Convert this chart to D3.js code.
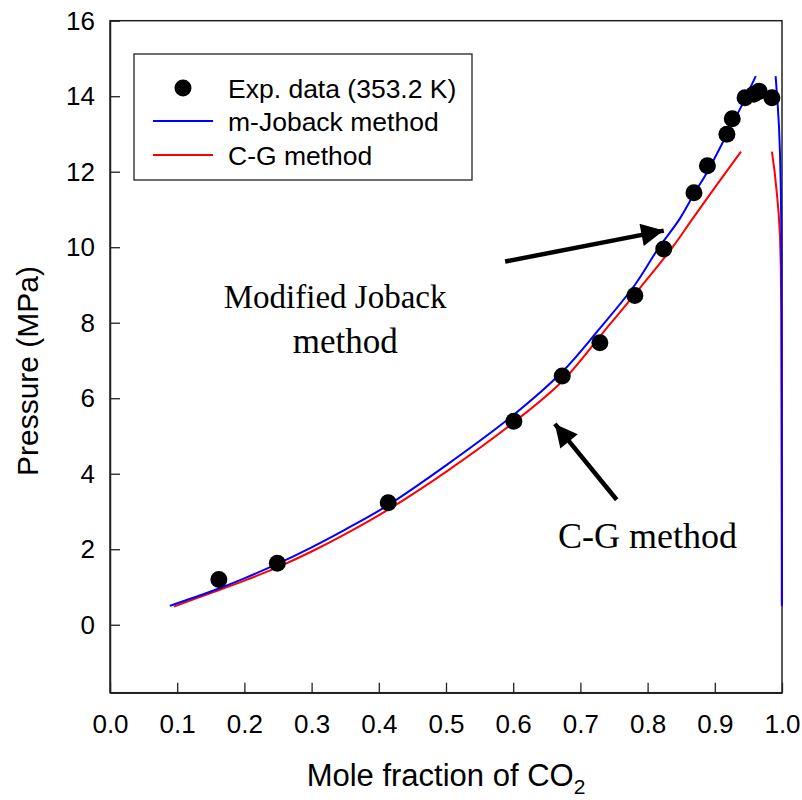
<!DOCTYPE html>
<html><head><meta charset="utf-8">
<script src="https://cdn.jsdelivr.net/npm/d3@7"></script>
<style>body{margin:0;background:#fff}svg{display:block}</style>
</head><body>
<svg id="chart" width="802" height="800"></svg>
<script>
// ---- data ----
const expX = [0.162, 0.249, 0.414, 0.601, 0.673, 0.729, 0.781, 0.824, 0.869, 0.889, 0.918, 0.926, 0.945, 0.958, 0.966, 0.985];
const expP = [1.20, 1.63, 3.23, 5.39, 6.59, 7.47, 8.72, 9.95, 11.44, 12.16, 12.99, 13.40, 13.96, 14.05, 14.13, 13.96];

const jobackBubbleX = [0.089, 0.15, 0.20, 0.249, 0.30, 0.35, 0.414, 0.50, 0.60, 0.673, 0.727, 0.781, 0.816, 0.847, 0.870, 0.889, 0.918, 0.940, 0.961];
const jobackBubbleP = [0.50, 0.88, 1.23, 1.61, 2.05, 2.52, 3.17, 4.22, 5.55, 6.70, 7.81, 9.00, 9.97, 10.73, 11.44, 12.00, 12.99, 13.75, 14.53];
const jobackDewX = [0.9905, 0.9935, 0.9955, 0.9970, 0.9982, 0.9990, 0.9994, 0.9996, 0.9998, 0.9999];
const jobackDewP = [14.53, 13.80, 13.20, 12.50, 11.60, 10.50, 8.50, 6.00, 3.00, 0.50];

const cgBubbleX = [0.095, 0.15, 0.20, 0.249, 0.30, 0.35, 0.414, 0.50, 0.60, 0.673, 0.737, 0.790, 0.838, 0.866, 0.900, 0.939];
const cgBubbleP = [0.48, 0.84, 1.17, 1.52, 1.94, 2.40, 3.05, 4.05, 5.35, 6.45, 7.81, 8.95, 10.02, 10.73, 11.58, 12.53];
const cgDewX = [0.9850, 0.9890, 0.9925, 0.9950, 0.9970, 0.9982, 0.9990, 0.9994, 0.9997, 0.9998];
const cgDewP = [12.53, 12.00, 11.40, 10.90, 10.30, 9.50, 8.20, 6.00, 3.00, 0.48];

const xTicks = [0.0, 0.1, 0.2, 0.3, 0.4, 0.5, 0.6, 0.7, 0.8, 0.9, 1.0];
const yTicks = [0, 2, 4, 6, 8, 10, 12, 14, 16];
const legendLabels = ["Exp. data (353.2 K)", "m-Joback method", "C-G method"];
// annotation arrows [tailX, tailP, tipX, tipP] in data units
const arrowJoback = [0.588, 9.62, 0.824, 10.44];
const arrowCG = [0.754, 3.31, 0.662, 5.32];

// ---- layout ----
const svg = d3.select("#chart");
const L = 110, R = 782, T = 20.7, B = 692.7;
const x = d3.scaleLinear().domain([0, 1]).range([L, R]);
const y = d3.scaleLinear().domain([-1.8, 16]).range([B, T]);
const blue = "#0000ff", red = "#ff0000";

// frame
svg.append("rect").attr("x", L).attr("y", T).attr("width", R - L).attr("height", B - T)
  .attr("fill", "none").attr("stroke", "#222").attr("stroke-width", 1.5);

// axes (inward ticks)
const xAxis = svg.append("g").attr("transform", `translate(0,${B})`)
  .call(d3.axisBottom(x).tickValues(xTicks).tickFormat(d3.format(".1f")).tickSizeInner(-10).tickSizeOuter(0).tickPadding(22));
const yAxis = svg.append("g").attr("transform", `translate(${L},0)`)
  .call(d3.axisLeft(y).tickValues(yTicks).tickFormat(d3.format("d")).tickSizeInner(-10).tickSizeOuter(0).tickPadding(15));
[xAxis, yAxis].forEach(g => {
  g.select(".domain").attr("stroke", "#222").attr("stroke-width", 1.5);
  g.selectAll(".tick line").attr("stroke", "#222").attr("stroke-width", 1.3);
  g.selectAll(".tick text").attr("fill", "#000").style("font-family", "Liberation Sans, Arial, sans-serif").style("font-size", "26px");
});

// axis titles
const xt = svg.append("text").attr("x", (L + R) / 2).attr("y", 786).attr("text-anchor", "middle")
  .style("font-family", "Liberation Sans, Arial, sans-serif").style("font-size", "31px").attr("fill", "#000");
xt.append("tspan").text("Mole fraction of CO");
xt.append("tspan").attr("dy", 8).style("font-size", "21px").text("2");
svg.append("text").attr("transform", `translate(38,371) rotate(-90)`).attr("text-anchor", "middle")
  .style("font-family", "Liberation Sans, Arial, sans-serif").style("font-size", "30px").attr("fill", "#000")
  .text("Pressure (MPa)");

// curves
const line = d3.line().x(d => x(d[0])).y(d => y(d[1]));
const zip = (a, b) => a.map((v, i) => [v, b[i]]);
const plot = svg.append("g");
plot.append("path").datum(zip(cgBubbleX, cgBubbleP)).attr("d", line.curve(d3.curveCatmullRom)).attr("fill", "none").attr("stroke", red).attr("stroke-width", 2);
plot.append("path").datum(zip(cgDewX, cgDewP)).attr("d", line.curve(d3.curveLinear)).attr("fill", "none").attr("stroke", red).attr("stroke-width", 2);
plot.append("path").datum(zip(jobackBubbleX, jobackBubbleP)).attr("d", line.curve(d3.curveCatmullRom)).attr("fill", "none").attr("stroke", blue).attr("stroke-width", 2);
plot.append("path").datum(zip(jobackDewX, jobackDewP)).attr("d", line.curve(d3.curveLinear)).attr("fill", "none").attr("stroke", blue).attr("stroke-width", 2);

// experimental points
plot.selectAll("circle.exp").data(zip(expX, expP)).join("circle").attr("class", "exp")
  .attr("cx", d => x(d[0])).attr("cy", d => y(d[1])).attr("r", 8.5).attr("fill", "#000");

// legend
const lg = svg.append("g");
lg.append("rect").attr("x", 134).attr("y", 54).attr("width", 338).attr("height", 126)
  .attr("fill", "#fff").attr("stroke", "#222").attr("stroke-width", 1.3);
const rows = [88, 121, 155];
lg.append("circle").attr("cx", 183).attr("cy", rows[0]).attr("r", 8.5).attr("fill", "#000");
lg.append("line").attr("x1", 153).attr("x2", 213).attr("y1", rows[1]).attr("y2", rows[1]).attr("stroke", blue).attr("stroke-width", 2);
lg.append("line").attr("x1", 153).attr("x2", 213).attr("y1", rows[2]).attr("y2", rows[2]).attr("stroke", red).attr("stroke-width", 2);
lg.selectAll("text").data(legendLabels).join("text")
  .attr("x", 228).attr("y", (d, i) => rows[i]).attr("dy", "0.36em")
  .style("font-family", "Liberation Sans, Arial, sans-serif").style("font-size", "26.5px").attr("fill", "#000")
  .text(d => d);

// annotation arrows
svg.append("defs").append("marker").attr("id", "ah").attr("viewBox", "0 0 10 10")
  .attr("refX", 10).attr("refY", 5).attr("markerWidth", 5.5).attr("markerHeight", 5)
  .attr("markerUnits", "strokeWidth").attr("orient", "auto")
  .append("path").attr("d", "M0,0 L10,5 L0,10 z").attr("fill", "#000");
[arrowJoback, arrowCG].forEach(a => {
  svg.append("line").attr("x1", x(a[0])).attr("y1", y(a[1])).attr("x2", x(a[2])).attr("y2", y(a[3]))
    .attr("stroke", "#000").attr("stroke-width", 4.5).attr("marker-end", "url(#ah)");
});

// annotation text
const serif = "Liberation Serif, Times New Roman, serif";
svg.append("text").attr("x", x(0.335)).attr("y", y(8.39)).attr("text-anchor", "middle")
  .style("font-family", serif).style("font-size", "33px").attr("fill", "#000").text("Modified Joback");
svg.append("text").attr("x", x(0.35)).attr("y", y(7.2)).attr("text-anchor", "middle")
  .style("font-family", serif).style("font-size", "35px").attr("fill", "#000").text("method");
svg.append("text").attr("x", x(0.80)).attr("y", y(2.03)).attr("text-anchor", "middle")
  .style("font-family", serif).style("font-size", "36px").attr("fill", "#000").text("C-G method");
</script>
</body></html>
